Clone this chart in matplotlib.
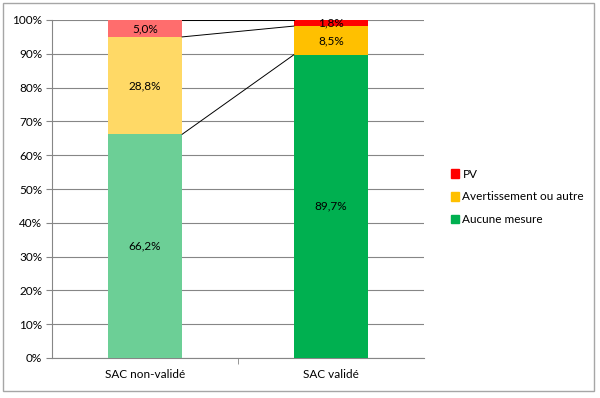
import matplotlib
matplotlib.use('Agg')
import matplotlib.pyplot as plt
from matplotlib.patches import Rectangle

categories = ['SAC non-validé', 'SAC validé']
series = ['Aucune mesure', 'Avertissement ou autre', 'PV']
aucune = [66.2, 89.7]
avert = [28.8, 8.5]
pv = [5.0, 1.8]
labels_aucune = ['66,2%', '89,7%']
labels_avert = ['28,8%', '8,5%']
labels_pv = ['5,0%', '1,8%']

colors_nv = ['#6ccf96', '#ffd966', '#ff6d6d']
colors_v = ['#00b050', '#ffc000', '#ff0000']
legend_colors = ['#00b050', '#ffc000', '#ff0000']

plt.rcParams['font.family'] = ['Lato', 'DejaVu Sans']
fig = plt.figure(figsize=(6.0, 3.98), dpi=100)
ax = fig.add_axes([52/600, 1 - 358/398, 372/600, 338/398])

fig.patches.append(Rectangle((3/600, 1 - 391/398), 591/600, 388/398, transform=fig.transFigure,
                             fill=False, edgecolor='#a6a6a6', lw=1))

x = [0, 1]
w = 0.4
data = [aucune, avert, pv]
txt = [labels_aucune, labels_avert, labels_pv]
bottoms = [0, 0]
tops = []
for k in range(3):
    for i in x:
        col = colors_nv[k] if i == 0 else colors_v[k]
        ax.bar(i, data[k][i], w, bottom=bottoms[i], color=col, zorder=3)
        ax.text(i, bottoms[i] + data[k][i] / 2, txt[k][i], ha='center', va='center',
                fontsize=8.5, color='#000000', zorder=4)
    bottoms = [bottoms[i] + data[k][i] for i in x]
    tops.append(list(bottoms))

# series lines between the bars
for t in tops:
    ax.plot([0 + w/2, 1 - w/2], [min(t[0], 100), min(t[1], 100)], color='black', lw=0.7, zorder=4)

ax.set_xlim(-0.5, 1.5)
ax.set_ylim(0, 100)
ax.set_yticks(range(0, 101, 10))
ax.set_yticklabels([f'{v}%' for v in range(0, 101, 10)], fontsize=8.5)
ax.set_xticks(x)
ax.set_xticklabels(categories, fontsize=8.5)
ax.set_xticks([0.5], minor=True)
ax.tick_params(axis='x', which='major', length=0, pad=8)
ax.tick_params(axis='x', which='minor', length=4, color='#868686')
ax.tick_params(axis='y', length=4, color='#868686', pad=3)
ax.grid(axis='y', color='#868686', lw=0.8, zorder=0)
for s in ['top', 'right']:
    ax.spines[s].set_visible(False)
for s in ['left', 'bottom']:
    ax.spines[s].set_color('#868686')

handles = [Rectangle((0, 0), 1, 1, color=c) for c in legend_colors]
leg = fig.legend(handles[::-1], series[::-1], loc='center left', bbox_to_anchor=(440/600, 1 - 197/398),
                 frameon=False, fontsize=8.5, handlelength=0.7, handleheight=0.7,
                 handletextpad=0.3, labelspacing=1.0)

fig.savefig('out.png')
